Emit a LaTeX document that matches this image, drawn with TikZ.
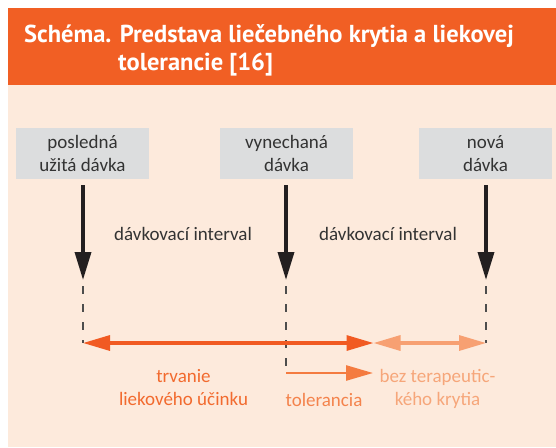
\documentclass[tikz,border=0pt]{standalone}
\usepackage{fontspec}
\setmainfont{Carlito}
\newfontfamily\titlefont{PT Sans}
\usetikzlibrary{arrows.meta}
\definecolor{hdr}{HTML}{F15F24}
\definecolor{pale}{HTML}{FDEADC}
\definecolor{boxgray}{HTML}{DCDDDE}
\definecolor{txt}{HTML}{333333}
\definecolor{arrblack}{HTML}{231F20}
\definecolor{dashgray}{HTML}{4D4D4D}
\definecolor{odark}{HTML}{F15A22}
\definecolor{omid}{HTML}{F47B40}
\definecolor{olight}{HTML}{F7A072}
\definecolor{tdark}{HTML}{F26A2E}
\definecolor{tmid}{HTML}{F4834C}
\definecolor{tlight}{HTML}{F6A67A}
\tikzset{
  dosebox/.style={fill=boxgray, minimum width=133pt, minimum height=51pt, inner sep=0pt,
    align=center, text=txt, font=\fontsize{19}{22.5}\selectfont},
  lbl/.style={inner sep=0pt, font=\fontsize{19}{23}\selectfont, align=center},
  titletext/.style={anchor=base west, inner sep=0pt, text=white, font=\titlefont\bfseries\fontsize{24.5}{28}\selectfont},
  downarrow/.style={draw=arrblack, line width=3.5pt, -{Triangle[length=28pt,width=16pt]}},
  guide/.style={draw=dashgray, line width=1.2pt, dash pattern=on 8pt off 10pt},
  span/.style={line width=3.2pt, {Triangle[length=27pt,width=15pt]}-{Triangle[length=27pt,width=15pt]}},
  tolarrow/.style={draw=omid, line width=2.6pt, -{Triangle[length=27pt,width=15pt]}},
}
\begin{document}
\begin{tikzpicture}[x=1pt,y=-1pt]
\useasboundingbox (0,0) rectangle (556,447);
\fill[white] (0,0) rectangle (556,447);
\fill[hdr] (7.5,7.5) rectangle (556,85);
\fill[pale] (7.5,85) rectangle (556,447);
% title
\node[titletext] (t1) at (24,42.5) {Schéma. Predstava liečebného krytia a liekovej};
\node[titletext] (t2) at (118,70) {tolerancie [16]};
% boxes
\node[dosebox] (b1) at (82.5,153.5) {posledná\\užitá dávka};
\node[dosebox] (b2) at (286.5,153.5) {vynechaná\\dávka};
\node[dosebox] (b3) at (485.5,153.5) {nová\\dávka};
% arrow tips and guide ends
\coordinate (a1) at (83,280);
\coordinate (a2) at (286,280);
\coordinate (a3) at (486,280);
\coordinate (s1) at (83,185);
\coordinate (s2) at (286,185);
\coordinate (s3) at (486,185);
\coordinate (g1) at (83,343);
\coordinate (g2) at (286,375);
\coordinate (g3) at (486,343);
\coordinate (m) at (373.5,343);
\coordinate (tolend) at (373,373);
\coordinate (tolstart) at (286,373);
\draw[downarrow] (s1) -- (a1);
\draw[downarrow] (s2) -- (a2);
\draw[downarrow] (s3) -- (a3);
\draw[guide] (83,286) -- (g1);
\draw[guide] (286,286) -- (g2);
\draw[guide] (486,286) -- (g3);
% labels
\node[lbl, text=txt, anchor=base] (l1) at (183,240.5) {dávkovací interval};
\node[lbl, text=txt, anchor=base] (l2) at (388,240.5) {dávkovací interval};
% spans
\draw[span, draw=odark, color=odark] (g1) -- (m);
\draw[span, draw=olight, color=olight] (m) -- (g3);
\draw[tolarrow, color=omid] (tolstart) -- (tolend);
% bottom labels
\node[lbl, text=tdark, anchor=base] (r1) at (183.5,382.5) {trvanie};
\node[lbl, text=tdark, anchor=base] (r2) at (183.5,405.5) {liekového účinku};
\node[lbl, text=tmid, anchor=base] (r3) at (324,406) {tolerancia};
\node[lbl, text=tlight, anchor=base] (r4) at (437.5,382.5) {bez terapeutic-};
\node[lbl, text=tlight, anchor=base] (r5) at (437.5,405.5) {kého krytia};
\end{tikzpicture}
\end{document}
